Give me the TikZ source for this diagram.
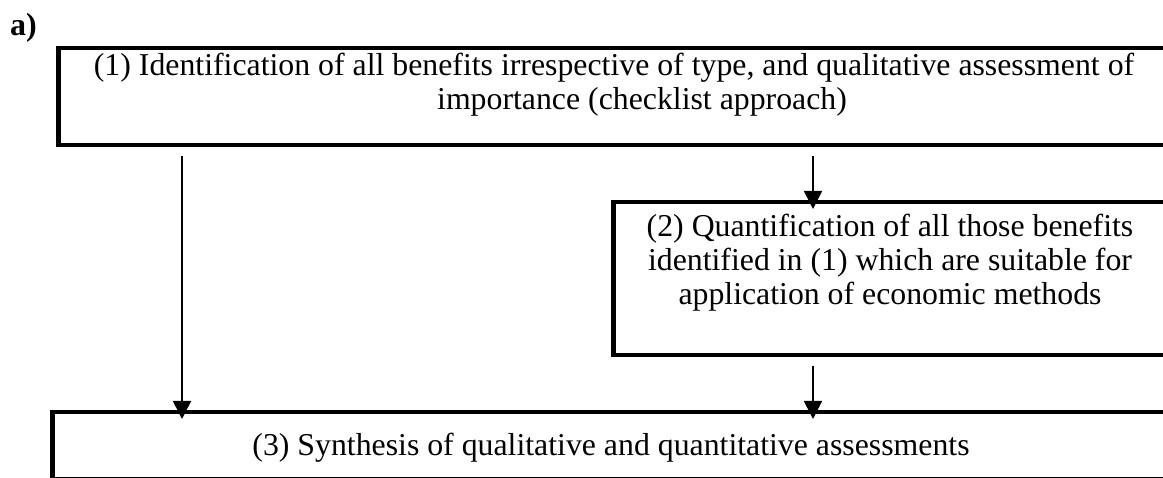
\documentclass[tikz,border=0pt]{standalone}
\usepackage{fontspec}
\setmainfont{Liberation Serif}
\usetikzlibrary{arrows.meta}
\begin{document}
\begin{tikzpicture}[x=1pt,y=-1pt,
  box/.style={draw, line width=4.5pt, rectangle, inner sep=0pt, anchor=north west},
  txt/.style={font=\fontsize{31.8}{34}\selectfont, align=center, inner sep=0pt, anchor=base},
  arr/.style={line width=1.6pt, -{Triangle[width=18pt,length=18pt]}, shorten <=9pt, shorten >=-9pt}]
\useasboundingbox (0,0) rectangle (1163,478);
\clip (0,0) rectangle (1163,478);
% panel label
\node[font=\fontsize{32}{34}\selectfont\bfseries, inner sep=0pt, anchor=base west] (lbl) at (10,36) {a)};
% the three stages; their right edges run past the page
\node[box, minimum width=1150pt, minimum height=97pt]  (b1) at (56,46)  {};
\node[box, minimum width=600pt,  minimum height=153pt] (b2) at (611,200) {};
\node[box, minimum width=1150pt, minimum height=67pt]  (b3) at (50,410) {};
\node[txt] (t1a) at (614,76) {(1) Identification of all benefits irrespective of type, and qualitative assessment of};
\node[txt] (t1b) at (642,110) {importance (checklist approach)};
% base anchor of a multi-line node sits on its last line
\node[txt] (t2) at (890,305) {(2) Quantification of all those benefits\\identified in (1) which are suitable for\\application of economic methods};
\node[txt] (t3) at (611,456) {(3) Synthesis of qualitative and quantitative assessments};
% arrow columns
\coordinate (cl) at (182,0);
\coordinate (cr) at (813,0);
\draw[arr] (b1.south -| cl) -- (b3.north -| cl);
\draw[arr] (b1.south -| cr) -- (b2.north -| cr);
\draw[arr] (b2.south -| cr) -- (b3.north -| cr);
\end{tikzpicture}
\end{document}
